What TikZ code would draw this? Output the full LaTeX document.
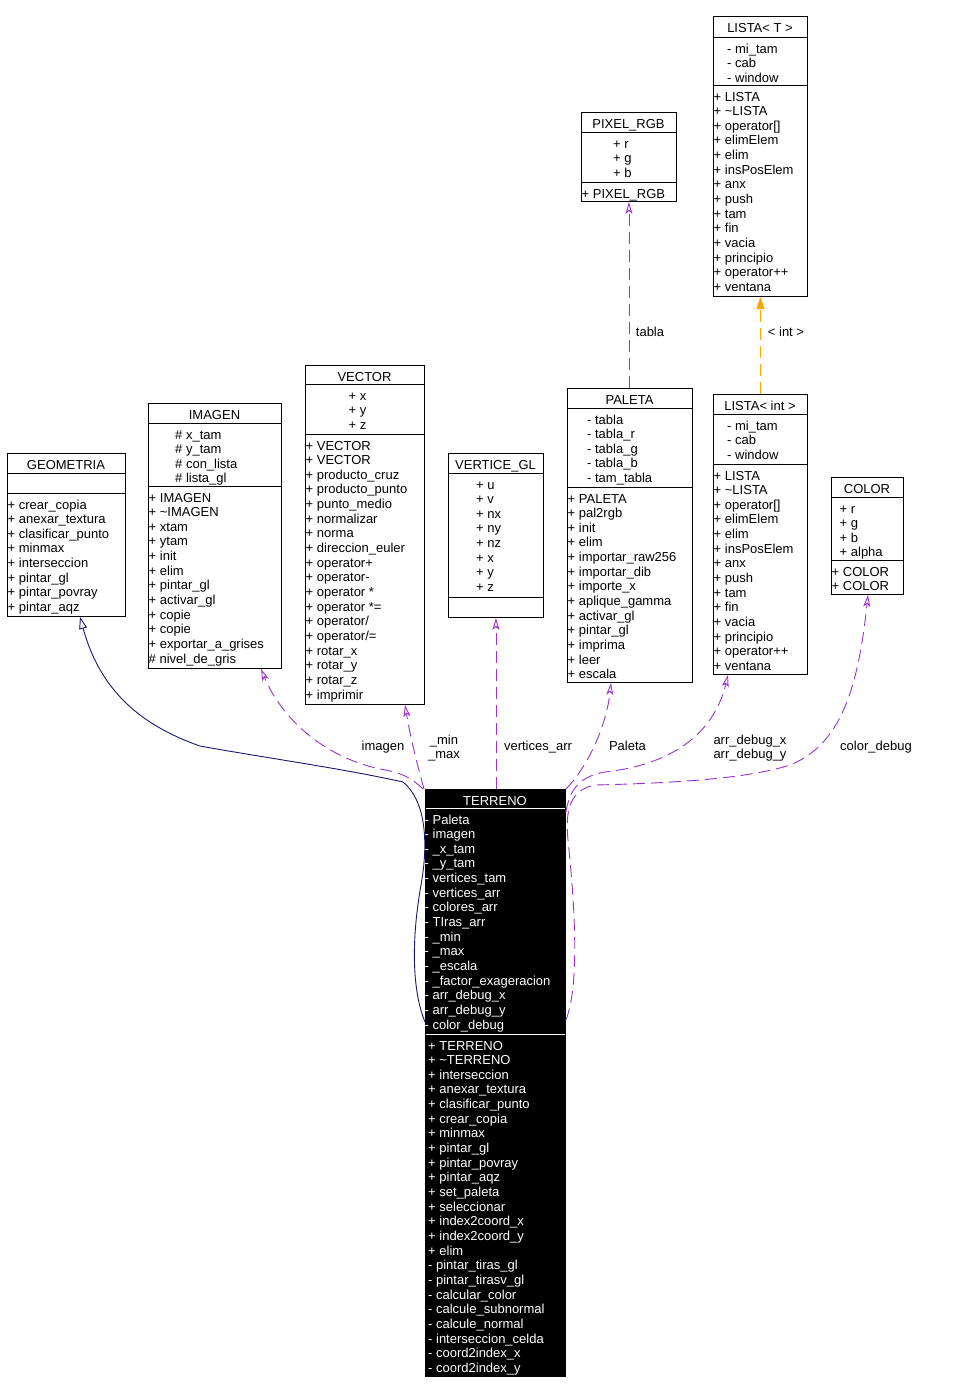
\documentclass[tikz,border=0pt]{standalone}
\usepackage{fontspec}
\setmainfont{Liberation Sans}
\usetikzlibrary{arrows.meta,calc}
\definecolor{edgepurple}{HTML}{9A32CD}
\definecolor{edgenavy}{HTML}{191970}
\definecolor{edgeorange}{HTML}{FFA500}
\newcommand{\dfont}{\fontsize{13}{14}\selectfont}
\newcommand{\lh}{14.65}
\tikzset{
 box/.style={draw=black, line width=0.9pt, inner sep=0pt, fill=white},
 darkbox/.style={draw=black, line width=0.9pt, inner sep=0pt, fill=black},
 divider/.style={line width=0.9pt, draw=black},
 txt/.style={font=\dfont, inner sep=0pt, anchor=base west, text=black},
 ttl/.style={font=\dfont, inner sep=0pt, anchor=base, text=black},
 lbl/.style={font=\dfont, inner sep=0pt, anchor=base, align=center},
 usage/.style={draw=edgepurple, line width=0.9pt, dash pattern=on 12pt off 6pt, -{Stealth[open, length=12pt, width=7pt, inset=3pt]}},
 inherit/.style={draw=edgenavy, line width=0.9pt, -{Triangle[open, length=12pt, width=8pt]}},
 tmpl/.style={draw=edgeorange, line width=0.9pt, dash pattern=on 12pt off 6pt, -{Triangle[length=12pt, width=8pt]}},
}
% #1 prefix, #2 x, #3 first baseline, #4 extra style, #5 list
\newcommand{\members}[5]{%
 \foreach \m [count=\i from 0] in {#5} {\node[txt,#4] (#1\i) at (#2,{#3+\i*\lh}) {\m};}}
% #1 name, #2 x1, #3 y1, #4 x2, #5 y2, #6 line1, #7 line2, #8 title
\newcommand{\umlclass}[8]{%
 \node[box, minimum width={#4-#2}, minimum height={#5-#3}, anchor=north west] (#1) at (#2,#3) {};
 \draw[divider] (#2,#6) -- (#4,#6);
 \draw[divider] (#2,#7) -- (#4,#7);
 \node[ttl] (#1t) at ({(#2+#4)/2},{#3+16}) {#8};}
\begin{document}
\begin{tikzpicture}[x=1pt,y=-1pt]
\useasboundingbox (0,0) rectangle (956,1393);
\fill[white] (0,0) rectangle (956,1393);

% GEOMETRIA
\umlclass{geometria}{7}{453}{125}{616}{473}{493}{GEOMETRIA}
\members{geom}{7.5}{509}{}{+ crear\_copia, + anexar\_textura, + clasificar\_punto, + minmax, + interseccion, + pintar\_gl, + pintar\_povray, + pintar\_aqz}

% IMAGEN
\umlclass{imagen}{148}{403}{281}{668}{423}{486}{IMAGEN}
\members{imga}{175}{439}{}{\# x\_tam, \# y\_tam, \# con\_lista, \# lista\_gl}
\members{imgm}{148.5}{502}{}{+ IMAGEN, + \textasciitilde IMAGEN, + xtam, + ytam, + init, + elim, + pintar\_gl, + activar\_gl, + copie, + copie, + exportar\_a\_grises, \# nivel\_de\_gris}

% VECTOR
\umlclass{vector}{305}{365}{424}{704}{384}{434}{VECTOR}
\members{veca}{348.5}{400}{}{+ x, + y, + z}
\members{vecm}{305.5}{450}{}{+ VECTOR, + VECTOR, + producto\_cruz, + producto\_punto, + punto\_medio, + normalizar, + norma, + direccion\_euler, + operator+, + operator-, + operator *, + operator *=, + operator/, + operator/=, + rotar\_x, + rotar\_y, + rotar\_z, + imprimir}

% VERTICE_GL
\umlclass{vertice}{448}{453}{543}{617}{473}{597}{VERTICE\_GL}
\members{verta}{476}{489}{}{+ u, + v, + nx, + ny, + nz, + x, + y, + z}

% PALETA
\umlclass{paleta}{567}{388}{692}{682}{408}{487}{PALETA}
\members{pala}{587}{424}{}{- tabla, - tabla\_r, - tabla\_g, - tabla\_b, - tam\_tabla}
\members{palm}{567.5}{503}{}{+ PALETA, + pal2rgb, + init, + elim, + importar\_raw256, + importar\_dib, + importe\_x, + aplique\_gamma, + activar\_gl, + pintar\_gl, + imprima, + leer, + escala}

% LISTA< int >
\umlclass{listaint}{713}{394}{807}{674}{414}{464}{LISTA< int >}
\members{lia}{727}{430}{}{- mi\_tam, - cab, - window}
\members{lim}{713.5}{480}{}{+ LISTA, + \textasciitilde LISTA, {+ operator[]}, + elimElem, + elim, + insPosElem, + anx, + push, + tam, + fin, + vacia, + principio, + operator++, + ventana}

% COLOR
\umlclass{color}{831}{477}{903}{594}{497}{560}{COLOR}
\members{cola}{839.5}{513}{}{+ r, + g, + b, + alpha}
\members{colm}{831.5}{576}{}{+ COLOR, + COLOR}

% PIXEL_RGB
\umlclass{pixel}{581}{112}{676}{201}{132}{182}{PIXEL\_RGB}
\members{pixa}{613}{148}{}{+ r, + g, + b}
\members{pixm}{581.5}{198}{}{+ PIXEL\_RGB}

% LISTA< T >
\umlclass{listat}{713}{16}{807}{296}{37}{85}{LISTA< T >}
\members{lta}{727}{53}{}{- mi\_tam, - cab, - window}
\members{ltm}{713.5}{101}{}{+ LISTA, + \textasciitilde LISTA, {+ operator[]}, + elimElem, + elim, + insPosElem, + anx, + push, + tam, + fin, + vacia, + principio, + operator++, + ventana}

% TERRENO
\node[darkbox, minimum width=140, minimum height=587, anchor=north west] (terreno) at (425,789) {};
\draw[divider, draw=white] (425.5,808) -- (564.5,808);
\draw[divider, draw=white] (425.5,1034) -- (564.5,1034);
\node[ttl, text=white] (terrenot) at (495,805) {TERRENO};
\members{tera}{424.5}{824}{text=white}{- Paleta, - imagen, - \_x\_tam, - \_y\_tam, - vertices\_tam, - vertices\_arr, - colores\_arr, - TIras\_arr, - \_min, - \_max, - \_escala, - \_factor\_exageracion, - arr\_debug\_x, - arr\_debug\_y, - color\_debug}
\members{term}{428}{1050}{text=white}{+ TERRENO, + \textasciitilde TERRENO, + interseccion, + anexar\_textura, + clasificar\_punto, + crear\_copia, + minmax, + pintar\_gl, + pintar\_povray, + pintar\_aqz, + set\_paleta, + seleccionar, + index2coord\_x, + index2coord\_y, + elim, - pintar\_tiras\_gl, - pintar\_tirasv\_gl, - calcular\_color, - calcule\_subnormal, - calcule\_normal, - interseccion\_celda, - coord2index\_x, - coord2index\_y}

% edges
\draw[inherit] ($(terreno.north west)+(0,233)$) .. controls (410,985) and (413,930) .. (421,885)
  .. controls (429,840) and (425,800) .. (403,782)
  .. controls (340,768) and (260,757) .. (200,746)
  .. controls (140,725) and (100,690) .. ($(geometria.south west)+(73,0)$);

\draw[usage] ($(terreno.north west)+(-2,0)$) .. controls (412,778) and (400,772) .. (380,769)
  .. controls (320,756) and (280,715) .. ($(imagen.south west)+(113,0)$);
\node[lbl] (limagen) at (383,750) {imagen};

\draw[usage] ($(terreno.north west)+(-1,0)$) .. controls (416,760) and (410,735) .. ($(vector.south west)+(100,0)$);
\node[lbl] (lminmax) at (444,758) {\_min\\\_max};

\draw[usage] (vertice.south |- terreno.north) -- (vertice.south);
\node[lbl] (lvert) at (538,750) {vertices\_arr};

\draw[usage] (terreno.north east) .. controls (585,770) and (606,730) .. ($(paleta.south west)+(44,0)$);
\node[lbl] (lpaleta) at (627.5,750) {Paleta};

\draw[usage] ($(terreno.north east)+(0,23)$) .. controls (569,795) and (575,777) .. (605,772)
  .. controls (660,766) and (712,742) .. ($(listaint.south west)+(15,0)$);
\node[lbl] (ldebug) at (750,758) {arr\_debug\_x\\arr\_debug\_y};

\draw[usage] ($(terreno.north east)+(0,231)$) .. controls (582,980) and (572,880) .. (568,840)
  .. controls (565,810) and (570,790) .. (595,785)
  .. controls (680,783) and (750,778) .. (790,765)
  .. controls (840,745) and (858,690) .. ($(color.south west)+(37,0)$);
\node[lbl] (lcolor) at (876,750) {color\_debug};

\draw[usage] (pixel.south |- paleta.north) -- (pixel.south);
\node[lbl] (ltabla) at (650,336) {tabla};

\draw[tmpl] (listaint.north) -- (listat.south);
\node[lbl] (lint) at (786,336) {< int >};
\end{tikzpicture}
\end{document}
